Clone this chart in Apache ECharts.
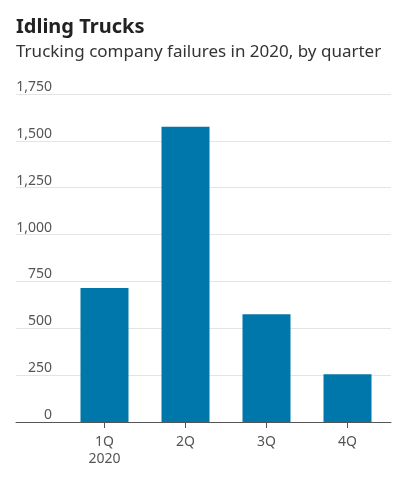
<!DOCTYPE html>
<html>
<head>
<meta charset="utf-8">
<script src="https://cdn.jsdelivr.net/npm/echarts@6/dist/echarts.min.js"></script>
<style>
  html, body { margin: 0; padding: 0; background: #fff; }
  #chart { width: 408px; height: 485px; }
</style>
</head>
<body>
<div id="chart"></div>
<script>
// data
var quarters = ['1Q\n2020', '2Q', '3Q', '4Q'];
var failures = [715, 1575, 575, 255];
var yMin = 0, yMax = 1750, yStep = 250;

var chart = echarts.init(document.getElementById('chart'));
var font = '"Noto Sans", sans-serif';

var option = {
  animation: false,
  title: [{
    text: 'Idling Trucks',
    left: 16,
    top: 17,
    padding: 0,
    textStyle: { fontFamily: font, fontSize: 20, fontWeight: 'bold', color: '#222' }
  }, {
    text: 'Trucking company failures in 2020, by quarter',
    left: 16,
    top: 44,
    padding: 0,
    textStyle: { fontFamily: font, fontSize: 17, fontWeight: 'normal', color: '#333' }
  }],
  grid: [
    { left: 16, right: 17, top: 94, bottom: 63 },   // gridlines + baseline
    { left: 64, right: 20, top: 94, bottom: 63 }    // bars
  ],
  xAxis: [{
    gridIndex: 0,
    type: 'value',
    min: 0,
    max: 1,
    axisLine: { show: true, lineStyle: { color: '#555', width: 1 } },
    axisTick: { show: false },
    axisLabel: { show: false },
    splitLine: { show: false }
  }, {
    gridIndex: 1,
    type: 'category',
    data: quarters,
    axisLine: { show: false },
    axisTick: { show: true, alignWithLabel: true, length: 6, lineStyle: { color: '#555' } },
    axisLabel: { margin: 12, fontFamily: font, fontSize: 14, color: '#555', lineHeight: 17 }
  }],
  yAxis: [{
    gridIndex: 0,
    type: 'value',
    min: yMin,
    max: yMax,
    interval: yStep,
    axisLine: { show: false },
    axisTick: { show: false },
    axisLabel: {
      margin: -36,
      align: 'right',
      verticalAlign: 'bottom',
      fontFamily: font,
      fontSize: 14,
      color: '#555',
      formatter: function (v) { return v.toLocaleString('en-US'); }
    },
    splitLine: { lineStyle: { color: '#e4e4e4', width: 1 } }
  }, {
    gridIndex: 1,
    type: 'value',
    min: yMin,
    max: yMax,
    show: false
  }],
  series: [{
    type: 'bar',
    xAxisIndex: 1,
    yAxisIndex: 1,
    data: failures,
    barWidth: 48,
    itemStyle: { color: '#0077aa' }
  }]
};

chart.setOption(option);
</script>
</body>
</html>
